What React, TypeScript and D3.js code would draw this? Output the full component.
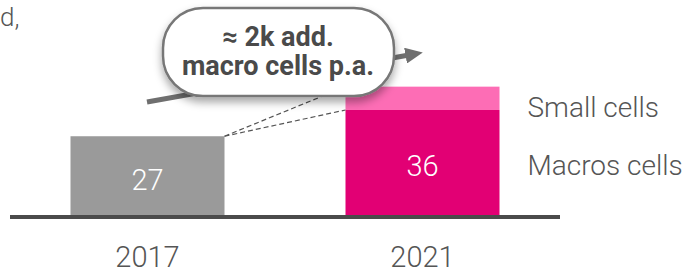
import * as d3 from "d3";
import { useEffect, useRef } from "react";

// chart data
const years = ["2017", "2021"];
const macroCells = [27, 36];
const smallCells = [0, 8];
const seriesNames = ["Small cells", "Macros cells"];
const calloutLines = ["≈ 2k add.", "macro cells p.a."];

const W = 684;
const H = 273;
const FONT = "Roboto, 'Noto Sans', sans-serif";

const App = () => {
  const ref = useRef<SVGSVGElement>(null);

  useEffect(() => {
    const svg = d3.select(ref.current);
    svg.selectAll("*").remove();

    const base = 215;
    const x = d3.scaleBand<string>()
      .domain(years)
      .range([10, 560])
      .paddingInner(0.44)
      .paddingOuter(0.22);
    const y = d3.scaleLinear().domain([0, 44]).range([base, base - 44 * 2.917]);

    const defs = svg.append("defs");
    const f = defs.append("filter").attr("id", "shadow")
      .attr("x", "-20%").attr("y", "-20%").attr("width", "140%").attr("height", "160%");
    f.append("feDropShadow").attr("dx", 0).attr("dy", 5).attr("stdDeviation", 4)
      .attr("flood-color", "#000").attr("flood-opacity", 0.35);
    defs.append("marker").attr("id", "head")
      .attr("viewBox", "0 0 10 10").attr("refX", 2).attr("refY", 5)
      .attr("markerWidth", 3.5).attr("markerHeight", 3.2)
      .attr("markerUnits", "strokeWidth")
      .attr("orient", "auto")
      .attr("preserveAspectRatio", "none")
      .append("path").attr("d", "M0,0 L10,5 L0,10 z").attr("fill", "#6f6f6f");

    // bars
    const data = years.map((yr, i) => ({ yr, macro: macroCells[i], small: smallCells[i], i }));
    svg.selectAll(".macro").data(data).enter().append("rect")
      .attr("x", d => x(d.yr)!)
      .attr("y", d => y(d.macro))
      .attr("width", x.bandwidth())
      .attr("height", d => base - y(d.macro))
      .attr("fill", d => d.i === 0 ? "#9a9a9a" : "#e20074");
    svg.selectAll(".small").data(data.filter(d => d.small > 0)).enter().append("rect")
      .attr("x", d => x(d.yr)!)
      .attr("y", d => y(d.macro + d.small))
      .attr("width", x.bandwidth())
      .attr("height", d => y(d.macro) - y(d.macro + d.small))
      .attr("fill", "#fd6db5");

    // value labels
    svg.selectAll(".val").data(data).enter().append("text")
      .attr("x", d => x(d.yr)! + x.bandwidth() / 2)
      .attr("y", d => (y(d.macro) + base) / 2 + 14)
      .attr("text-anchor", "middle")
      .attr("font-family", FONT).attr("font-weight", 300).attr("font-size", 29)
      .attr("fill", "#fff")
      .text(d => d.macro);

    // axis line
    svg.append("line")
      .attr("x1", x.range()[0]).attr("x2", x.range()[1])
      .attr("y1", base + 2).attr("y2", base + 2)
      .attr("stroke", "#4b4b4b").attr("stroke-width", 4);

    // year labels
    svg.selectAll(".yr").data(data).enter().append("text")
      .attr("x", d => x(d.yr)! + x.bandwidth() / 2)
      .attr("y", 267)
      .attr("text-anchor", "middle")
      .attr("font-family", FONT).attr("font-weight", 300).attr("font-size", 29)
      .attr("fill", "#555")
      .text(d => d.yr);

    // legend
    const last = data[data.length - 1];
    const lx = x(last.yr)! + x.bandwidth() + 28;
    svg.append("text")
      .attr("x", lx).attr("y", y(last.macro + last.small / 2) + 19)
      .attr("font-family", FONT).attr("font-weight", 300).attr("font-size", 28)
      .attr("fill", "#555").text(seriesNames[0]);
    svg.append("text")
      .attr("x", lx).attr("y", y(last.macro / 2) + 13)
      .attr("font-family", FONT).attr("font-weight", 300).attr("font-size", 28)
      .attr("fill", "#555").text(seriesNames[1]);

    // dashed connectors
    const x0 = x(years[0])! + x.bandwidth();
    const x1 = x(last.yr)!;
    [last.macro + last.small, last.macro].forEach(v => {
      svg.append("line")
        .attr("x1", x0).attr("y1", y(macroCells[0]))
        .attr("x2", x1).attr("y2", y(v))
        .attr("stroke", "#555").attr("stroke-width", 1.2)
        .attr("stroke-dasharray", "5,3");
    });

    // trend arrow
    svg.append("line")
      .attr("x1", 147).attr("y1", 102).attr("x2", 409).attr("y2", 55)
      .attr("stroke", "#6f6f6f").attr("stroke-width", 5)
      .attr("marker-end", "url(#head)");

    // callout bubble
    svg.append("rect")
      .attr("x", 163).attr("y", 8).attr("width", 231).attr("height", 88)
      .attr("rx", 40).attr("ry", 40)
      .attr("fill", "#fff").attr("stroke", "#777").attr("stroke-width", 2.5)
      .attr("filter", "url(#shadow)");
    calloutLines.forEach((t, i) => {
      svg.append("text")
        .attr("x", 278).attr("y", 46 + i * 29)
        .attr("text-anchor", "middle")
        .attr("font-family", FONT).attr("font-weight", 700).attr("font-size", 27)
        .attr("fill", "#4a4a4a").text(t);
    });

    // text ending at the top left edge
    svg.append("text")
      .attr("x", 0).attr("y", 26)
      .attr("font-family", FONT).attr("font-weight", 300).attr("font-size", 26)
      .attr("fill", "#555").text("d,");
  }, []);

  return (
    <svg ref={ref} width={W} height={H}
      style={{ position: "absolute", left: 0, top: 0, background: "#fff" }} />
  );
};

export default App;
